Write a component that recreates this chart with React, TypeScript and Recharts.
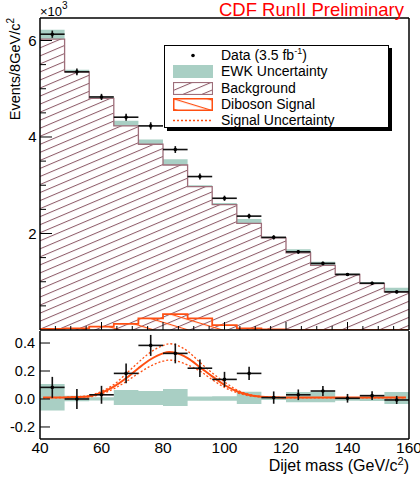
import React from 'react';
import { ComposedChart, Area, Line, Scatter, ErrorBar, XAxis, YAxis } from 'recharts';

const FONT = '"Liberation Sans", Arial, Helvetica, sans-serif';
const ORANGE = '#ff4f12';
const EWK = '#a9cfc4';
const MAUVE = '#9e6e7a';

// bins of 8 GeV/c2 from 40 to 160
const binEdges = [40, 48, 56, 64, 72, 80, 88, 96, 104, 112, 120, 128, 136, 144, 152, 160];
const binCenters = [44, 52, 60, 68, 76, 84, 92, 100, 108, 116, 124, 132, 140, 148, 156];

// top panel (events per bin)
const dataEvents = [6130, 5350, 4830, 4410, 4230, 3740, 3180, 2730, 2360, 1920, 1620, 1380, 1150, 970, 790];
const background = [6030, 5350, 4800, 4230, 3850, 3420, 2970, 2600, 2210, 1910, 1600, 1340, 1150, 960, 790];
const diboson = [25, 35, 70, 125, 240, 330, 240, 100, 35, 10, 2, 0, 0, 0, 0];

// bottom panel (data - background, x10^3)
const residual = [0.083, 0.0, 0.03, 0.183, 0.383, 0.326, 0.22, 0.14, 0.183, 0.01, 0.03, 0.057, 0.005, 0.024, -0.007];
const statErr = [0.075, 0.071, 0.064, 0.071, 0.075, 0.071, 0.062, 0.054, 0.048, 0.044, 0.038, 0.036, 0.031, 0.032, 0.029];
const ewkLo = [-0.083, -0.017, -0.01, -0.043, -0.043, -0.05, -0.012, -0.013, -0.036, -0.008, -0.024, -0.024, -0.012, -0.015, -0.036];
const ewkHi = [0.107, 0.024, 0.012, 0.064, 0.057, 0.071, 0.018, 0.02, 0.052, 0.01, 0.05, 0.052, 0.015, 0.02, 0.05];

// signal shape in the ratio panel
const curveX = [41, 44, 48, 52, 56, 60, 64, 68, 72, 76, 80, 82, 84, 88, 92, 96, 100, 104, 108, 112, 116, 120, 130, 140, 150, 159];
const sigFit = [0.01, 0.01, 0.011, 0.014, 0.02, 0.045, 0.088, 0.148, 0.22, 0.284, 0.326, 0.335, 0.33, 0.292, 0.228, 0.162, 0.1, 0.055, 0.028, 0.016, 0.012, 0.01, 0.01, 0.01, 0.01, 0.01];
const sigUp = [0.01, 0.01, 0.012, 0.016, 0.025, 0.055, 0.103, 0.18, 0.262, 0.335, 0.382, 0.395, 0.388, 0.342, 0.262, 0.186, 0.122, 0.066, 0.033, 0.018, 0.013, 0.01, 0.01, 0.01, 0.01, 0.01];
const sigDown = [0.01, 0.01, 0.01, 0.012, 0.015, 0.037, 0.073, 0.124, 0.183, 0.236, 0.27, 0.278, 0.274, 0.243, 0.2, 0.138, 0.083, 0.045, 0.023, 0.014, 0.011, 0.01, 0.01, 0.01, 0.01, 0.01];

const xMinor = [45, 50, 55, 60, 65, 70, 75, 80, 85, 90, 95, 100, 105, 110, 115, 120, 125, 130, 135, 140, 145, 150, 155];
const xLabels = [40, 60, 80, 100, 120, 140, 160];
const topYTicks = [500, 1000, 1500, 2000, 2500, 3000, 3500, 4000, 4500, 5000, 5500, 6000];
const botYTicks = [-0.2, 0, 0.2, 0.4];

const stepRows = (vals: number[]) => binEdges.map((x, i) => ({ x, v: vals[Math.min(i, vals.length - 1)] }));
const bkgRows = stepRows(background);
const sigRows = stepRows(diboson);
const topBandRows = binEdges.map((x, i) => {
  const j = Math.min(i, background.length - 1);
  return { x, band: [background[j], background[j] + (ewkHi[j] - ewkLo[j]) * 1000] };
});
const botBandRows = binEdges.map((x, i) => {
  const j = Math.min(i, ewkLo.length - 1);
  return { x, band: [ewkLo[j], ewkHi[j]] };
});
const topPoints = binCenters.map((x, i) => ({ x, y: dataEvents[i], ex: 4, ey: statErr[i] * 1000 }));
const botPoints = binCenters.map((x, i) => ({ x, y: residual[i], ex: 4, ey: statErr[i] }));
const curveRows = curveX.map((x, i) => ({ x, fit: sigFit[i], up: sigUp[i], down: sigDown[i] }));

const frame = { stroke: '#000', strokeWidth: 1.5 };

const xTick = (dir: number) => (p: any) => {
  const major = p.payload.value % 20 === 0;
  return <line x1={p.x} x2={p.x} y1={p.y} y2={p.y + dir * (major ? 8 : 4)} stroke="#000" strokeWidth={1} />;
};

const xLabelTick = (p: any) => (
  <text x={p.x} y={p.y + 14} textAnchor="middle" fontSize={15.5} fontFamily={FONT} fill="#000">
    {p.payload.value}
  </text>
);

const topYTick = (dir: number, labelled: boolean) => (p: any) => {
  const major = p.payload.value % 2000 === 0;
  return (
    <g>
      <line x1={p.x} x2={p.x + dir * (major ? 12 : 6)} y1={p.y} y2={p.y} stroke="#000" strokeWidth={1} />
      {labelled && major && (
        <text x={p.x - 3.5} y={p.y} dy="0.36em" textAnchor="end" fontSize={15} fontFamily={FONT} fill="#000">
          {p.payload.value / 1000}
        </text>
      )}
    </g>
  );
};

const botYTick = (dir: number, labelled: boolean) => (p: any) => (
  <g>
    <line x1={p.x} x2={p.x + dir * 10} y1={p.y} y2={p.y} stroke="#000" strokeWidth={1} />
    {labelled && (
      <text x={p.x - 5} y={p.y} dy="0.36em" textAnchor="end" fontSize={14.5} fontFamily={FONT} fill="#000">
        {Number(p.payload.value).toFixed(1)}
      </text>
    )}
  </g>
);

const dot = (p: any) => <circle cx={p.cx} cy={p.cy} r={1.8} fill="#000" />;

const titleLabel = (p: any) => {
  const vb = p.viewBox || { x: 40, y: 0, width: 369, height: 18 };
  return (
    <g fontFamily={FONT}>
      <text x={vb.x + vb.width - 5} y={vb.y + 15.5} textAnchor="end" fontSize={18.5} fill="#ff0000">
        CDF RunII Preliminary
      </text>
      <text x={vb.x} y={vb.y + 16} fontSize={13} fill="#000">
        ×10<tspan dy={-7} fontSize={10}>3</tspan>
      </text>
    </g>
  );
};

const yTitle = (p: any) => {
  const vb = p.viewBox || { x: 0, y: 18, width: 40, height: 312 };
  const tx = vb.x + 20;
  return (
    <text transform={`translate(${tx},${vb.y}) rotate(-90)`} textAnchor="end" fontSize={14.5} fontFamily={FONT} fill="#000">
      Events/8GeV/c<tspan dy={-6} fontSize={10}>2</tspan>
    </text>
  );
};

const xTitle = (p: any) => {
  const vb = p.viewBox || { x: 40, y: 109, width: 369, height: 40 };
  return (
    <text x={vb.x + vb.width} y={vb.y + 32} textAnchor="end" fontSize={16} fontFamily={FONT} fill="#000">
      Dijet mass (GeV/c<tspan dy={-6} fontSize={11}>2</tspan>
      <tspan dy={6}>)</tspan>
    </text>
  );
};

const Swatch = ({ kind }: { kind: string }) => (
  <svg width={40} height={13} style={{ position: 'absolute', left: 8, top: 1 }}>
    {kind === 'data' && <circle cx={20} cy={6.5} r={1.8} fill="#000" />}
    {kind === 'ewk' && <rect x={0} y={0} width={40} height={13} fill={EWK} />}
    {kind === 'bkg' && <rect x={0.5} y={0.5} width={39} height={12} fill="url(#bkgHatch)" stroke={MAUVE} strokeWidth={1.2} />}
    {kind === 'sig' && <rect x={0.75} y={0.75} width={38.5} height={11.5} fill="url(#sigHatch)" stroke={ORANGE} strokeWidth={1.5} />}
    {kind === 'unc' && <line x1={0} x2={40} y1={6.5} y2={6.5} stroke={ORANGE} strokeWidth={1.3} strokeDasharray="2 2" />}
  </svg>
);

const legendItems = [
  { kind: 'data', text: <>Data (3.5 fb<sup style={{ fontSize: 9, lineHeight: 0, verticalAlign: 6 }}>-1</sup>)</> },
  { kind: 'ewk', text: <>EWK Uncertainty</> },
  { kind: 'bkg', text: <>Background</> },
  { kind: 'sig', text: <>Diboson Signal</> },
  { kind: 'unc', text: <>Signal Uncertainty</> },
];

export default function App() {
  return (
    <div style={{ position: 'absolute', left: 0, top: 0, width: 420, height: 479, background: '#fff', overflow: 'hidden' }}>
      <svg width={0} height={0} style={{ position: 'absolute' }}>
        <defs>
          <pattern id="bkgHatch" patternUnits="userSpaceOnUse" width={30} height={7.4} patternTransform="rotate(-23)">
            <line x1={0} y1={0.5} x2={30} y2={0.5} stroke="#8f5d6a" strokeWidth={1} />
          </pattern>
          <pattern id="sigHatch" patternUnits="userSpaceOnUse" width={30} height={10} patternTransform="rotate(17)">
            <line x1={0} y1={0.5} x2={30} y2={0.5} stroke={ORANGE} strokeWidth={1.3} />
          </pattern>
        </defs>
      </svg>

      <div style={{ position: 'absolute', left: 0, top: 0 }}>
        <ComposedChart width={420} height={331} margin={{ top: 0, right: 0, bottom: 0, left: 0 }}>
          <XAxis xAxisId={0} dataKey="x" type="number" domain={[40, 160]} ticks={xMinor} interval={0}
            orientation="bottom" height={1} tickSize={0} tickMargin={0} tick={xTick(-1)} axisLine={frame} allowDataOverflow />
          <XAxis xAxisId="t" dataKey="x" type="number" domain={[40, 160]} ticks={xMinor} interval={0}
            orientation="top" height={18} tickSize={0} tickMargin={0} tick={xTick(1)} axisLine={frame} label={titleLabel} />
          <YAxis yAxisId={0} type="number" domain={[0, 6466]} ticks={topYTicks} interval={0} width={40}
            tickSize={0} tickMargin={0} tick={topYTick(1, true)} axisLine={frame} label={yTitle} allowDataOverflow />
          <YAxis yAxisId="r" orientation="right" type="number" domain={[0, 6466]} ticks={topYTicks} interval={0} width={11}
            tickSize={0} tickMargin={0} tick={topYTick(-1, false)} axisLine={frame} />
          <Area data={topBandRows} dataKey="band" type="stepAfter" stroke="none" fill={EWK} fillOpacity={1}
            dot={false} activeDot={false} isAnimationActive={false} />
          <Area data={bkgRows} dataKey="v" type="stepAfter" stroke={MAUVE} strokeWidth={1.3} fill="url(#bkgHatch)" fillOpacity={1}
            dot={false} activeDot={false} isAnimationActive={false} />
          <Area data={sigRows} dataKey="v" type="stepAfter" stroke={ORANGE} strokeWidth={1.8} fill="url(#sigHatch)" fillOpacity={1}
            dot={false} activeDot={false} isAnimationActive={false} />
          <Scatter data={topPoints} dataKey="y" shape={dot} isAnimationActive={false}>
            <ErrorBar dataKey="ex" direction="x" width={0} stroke="#111" strokeWidth={1.6} />
            <ErrorBar dataKey="ey" direction="y" width={0} stroke="#111" strokeWidth={1.6} />
          </Scatter>
        </ComposedChart>
      </div>

      <div style={{ position: 'absolute', left: 0, top: 330 }}>
        <ComposedChart width={420} height={149} margin={{ top: 0, right: 0, bottom: 0, left: 0 }}>
          <XAxis xAxisId={0} dataKey="x" type="number" domain={[40, 160]} ticks={xLabels} interval={0}
            orientation="bottom" height={40} tickSize={0} tickMargin={0} tick={xLabelTick} axisLine={frame} label={xTitle} allowDataOverflow />
          <XAxis xAxisId="t" dataKey="x" type="number" domain={[40, 160]} orientation="top" height={1} tick={false} axisLine={false} />
          <YAxis yAxisId={0} type="number" domain={[-0.286, 0.486]} ticks={botYTicks} interval={0} width={40}
            tickSize={0} tickMargin={0} tick={botYTick(1, true)} axisLine={frame} allowDataOverflow />
          <YAxis yAxisId="r" orientation="right" type="number" domain={[-0.286, 0.486]} ticks={botYTicks} interval={0} width={11}
            tickSize={0} tickMargin={0} tick={botYTick(-1, false)} axisLine={frame} />
          <Area data={botBandRows} dataKey="band" type="stepAfter" stroke="none" fill={EWK} fillOpacity={1}
            dot={false} activeDot={false} isAnimationActive={false} />
          <Line data={curveRows} dataKey="up" type="monotone" stroke={ORANGE} strokeWidth={1.3} strokeDasharray="2 2"
            dot={false} activeDot={false} isAnimationActive={false} />
          <Line data={curveRows} dataKey="down" type="monotone" stroke={ORANGE} strokeWidth={1.3} strokeDasharray="2 2"
            dot={false} activeDot={false} isAnimationActive={false} />
          <Line data={curveRows} dataKey="fit" type="monotone" stroke={ORANGE} strokeWidth={2}
            dot={false} activeDot={false} isAnimationActive={false} />
          <Scatter data={botPoints} dataKey="y" shape={dot} isAnimationActive={false}>
            <ErrorBar dataKey="ex" direction="x" width={0} stroke="#111" strokeWidth={1.6} />
            <ErrorBar dataKey="ey" direction="y" width={0} stroke="#111" strokeWidth={1.6} />
          </Scatter>
        </ComposedChart>
      </div>

      <div style={{
        position: 'absolute', left: 164, top: 45, width: 225, height: 83, boxSizing: 'border-box',
        border: '1px solid #000', boxShadow: '3px 3px 0 #000', background: '#fff', fontFamily: FONT, fontSize: 14, color: '#000',
      }}>
        {legendItems.map((it, i) => (
          <div key={it.kind} style={{ position: 'absolute', left: 0, top: 2 + i * 16.3, width: 220, height: 16 }}>
            <Swatch kind={it.kind} />
            <div style={{ position: 'absolute', left: 56, top: -1, lineHeight: '16px', whiteSpace: 'nowrap' }}>{it.text}</div>
          </div>
        ))}
      </div>
    </div>
  );
}
